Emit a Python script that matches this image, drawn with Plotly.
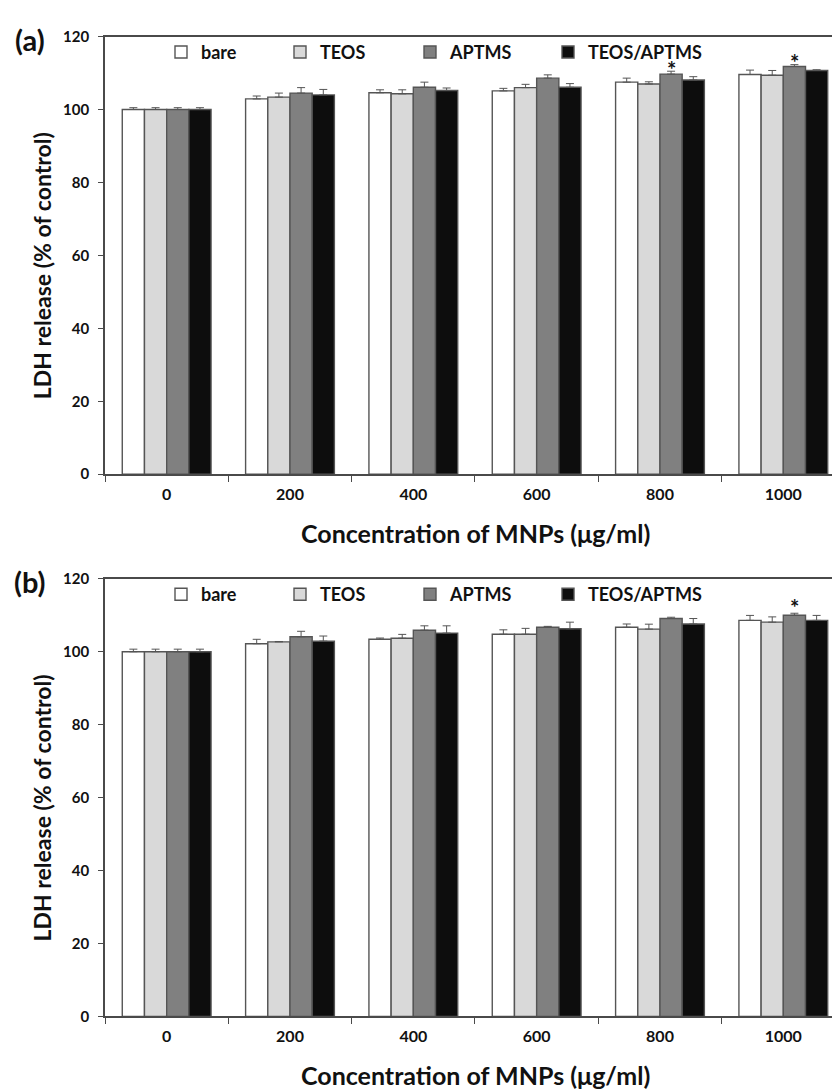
import plotly.graph_objects as go

# ---------------- data ----------------
concentrations = ["0", "200", "400", "600", "800", "1000"]
series_names = ["bare", "TEOS", "APTMS", "TEOS/APTMS"]

# panel (a)
a_bare = [100.0, 102.9, 104.6, 105.1, 107.5, 109.6]
a_bare_err = [0.5, 0.8, 0.8, 0.7, 1.1, 1.2]
a_teos = [100.0, 103.4, 104.3, 106.0, 107.0, 109.4]
a_teos_err = [0.5, 1.1, 1.1, 0.9, 0.6, 1.3]
a_aptms = [100.0, 104.5, 106.1, 108.6, 109.7, 111.8]
a_aptms_err = [0.5, 1.5, 1.4, 0.9, 0.8, 0.5]
a_teos_aptms = [100.0, 104.0, 105.2, 106.1, 108.1, 110.7]
a_teos_aptms_err = [0.5, 1.5, 0.7, 1.0, 0.9, 0.2]

# panel (b)
b_bare = [100.0, 102.2, 103.4, 104.8, 106.7, 108.6]
b_bare_err = [0.7, 1.2, 0.35, 1.2, 0.9, 1.35]
b_teos = [100.0, 102.7, 103.7, 104.8, 106.2, 108.1]
b_teos_err = [0.7, 0.1, 1.05, 1.6, 1.35, 1.45]
b_aptms = [100.0, 104.1, 105.9, 106.7, 109.1, 110.0]
b_aptms_err = [0.7, 1.5, 1.2, 0.25, 0.35, 0.55]
b_teos_aptms = [100.0, 102.9, 105.1, 106.3, 107.6, 108.6]
b_teos_aptms_err = [0.7, 1.4, 2.0, 1.8, 1.5, 1.35]

# significance marks (category, series)
a_stars = [("800", "APTMS"), ("1000", "APTMS")]
b_stars = [("1000", "APTMS")]

y_ticks = [0, 20, 40, 60, 80, 100, 120]
panel_labels = ["(a)", "(b)"]
x_title = "Concentration of MNPs (μg/ml)"
y_title = "LDH release (% of control)"

# ---------------- styling ----------------
W, H = 832, 1092
FONT = "Lato, Carlito, Arial, sans-serif"
fills = ["#ffffff", "#d9d9d9", "#808080", "#0d0d0d"]
edge = "#555555"
axis_col = "#4a4a4a"
BARGAP = 0.28

def px_x(p):
    return p / W

def px_y(p):
    return 1 - p / H

panels = [
    dict(vals=[a_bare, a_teos, a_aptms, a_teos_aptms],
         errs=[a_bare_err, a_teos_err, a_aptms_err, a_teos_aptms_err],
         stars=a_stars, top=27.0, bottom=472.0, star_shift=2),
    dict(vals=[b_bare, b_teos, b_aptms, b_teos_aptms],
         errs=[b_bare_err, b_teos_err, b_aptms_err, b_teos_aptms_err],
         stars=b_stars, top=578.3, bottom=1023.3, star_shift=6),
]

plot_left = 105.0
cat_w = 123.33
x_hi = (W - plot_left) / cat_w - 0.5

fig = go.Figure()
annotations = []
layout_extra = {}
legend_box_left = [175, 294, 424, 562]

for pi, pnl in enumerate(panels):
    xa = "x" if pi == 0 else "x2"
    ya = "y" if pi == 0 else "y2"
    for si, name in enumerate(series_names):
        lg_idx = pi * 4 + si + 1
        lg_name = "legend" if lg_idx == 1 else f"legend{lg_idx}"
        fig.add_trace(go.Bar(
            x=concentrations, y=pnl["vals"][si], name=name,
            xaxis=xa, yaxis=ya,
            marker=dict(color=fills[si], line=dict(color=edge, width=1.4)),
            error_y=dict(type="data", array=pnl["errs"][si],
                         arrayminus=[0] * len(concentrations),
                         symmetric=False, color=edge, thickness=1, width=4),
            legend=lg_name, showlegend=True,
        ))
        ly = pnl["top"] + 16
        layout_extra[lg_name] = dict(
            x=px_x(legend_box_left[si] - 14), y=px_y(ly),
            xanchor="left", yanchor="middle", orientation="h",
            bgcolor="rgba(0,0,0,0)", borderwidth=0,
            font=dict(family=FONT, size=18, color="#111", weight="bold"),
        )
    # stars
    bw = (1 - BARGAP) / 4
    for cat, ser in pnl["stars"]:
        ci = concentrations.index(cat)
        si = series_names.index(ser)
        yv = pnl["vals"][si][ci] + pnl["errs"][si][ci]
        annotations.append(dict(
            x=ci + (si - 1.5) * bw, y=yv, xref=xa, yref=ya,
            text="*", showarrow=False, xanchor="center", yanchor="middle",
            yshift=pnl["star_shift"],
            font=dict(family=FONT, size=22, color="#111", weight="bold"),
        ))
    # panel label
    annotations.append(dict(
        x=px_x(30), y=px_y(pnl["top"] + 3), xref="paper", yref="paper",
        text=panel_labels[pi], showarrow=False, xanchor="center", yanchor="middle",
        font=dict(family=FONT, size=29, color="#111", weight="bold"),
    ))
    # x title
    annotations.append(dict(
        x=px_x(475), y=px_y(pnl["bottom"] + 60), xref="paper", yref="paper",
        text=x_title, showarrow=False, xanchor="center", yanchor="middle",
        font=dict(family=FONT, size=25, color="#111", weight="bold"),
    ))
    # y title
    annotations.append(dict(
        x=px_x(42), y=px_y((pnl["top"] + pnl["bottom"]) / 2 + 11), xref="paper", yref="paper",
        text=y_title, showarrow=False, xanchor="center", yanchor="middle", textangle=-90,
        font=dict(family=FONT, size=23, color="#111", weight="bold"),
    ))

def xaxis_cfg(anchor):
    return dict(
        type="category", domain=[px_x(plot_left), 1], anchor=anchor,
        range=[-0.5, x_hi], showline=True, linecolor=axis_col, linewidth=1.6,
        mirror=True, ticks="outside", tickson="boundaries", ticklen=6,
        tickwidth=1.3, tickcolor=axis_col, showgrid=False, zeroline=False,
        tickfont=dict(family=FONT, size=16, color="#111", weight="bold"),
        ticklabelstandoff=5,
    )

def yaxis_cfg(anchor, top, bottom):
    return dict(
        domain=[px_y(bottom), px_y(top)], anchor=anchor, range=[0, 120],
        tickvals=y_ticks, showline=True, linecolor=axis_col, linewidth=1.6,
        ticks="outside", ticklen=5, tickwidth=1.3, tickcolor=axis_col,
        showgrid=False, zeroline=False,
        tickfont=dict(family=FONT, size=15, color="#111", weight="bold"),
        ticklabelstandoff=6,
    )

fig.update_layout(
    width=W, height=H, margin=dict(l=0, r=0, t=0, b=0),
    paper_bgcolor="white", plot_bgcolor="white",
    barmode="group", bargap=BARGAP, bargroupgap=0,
    xaxis=xaxis_cfg("y"), yaxis=yaxis_cfg("x", panels[0]["top"], panels[0]["bottom"]),
    xaxis2=xaxis_cfg("y2"), yaxis2=yaxis_cfg("x2", panels[1]["top"], panels[1]["bottom"]),
    annotations=annotations,
    **layout_extra,
)

fig.write_html("out.html")
